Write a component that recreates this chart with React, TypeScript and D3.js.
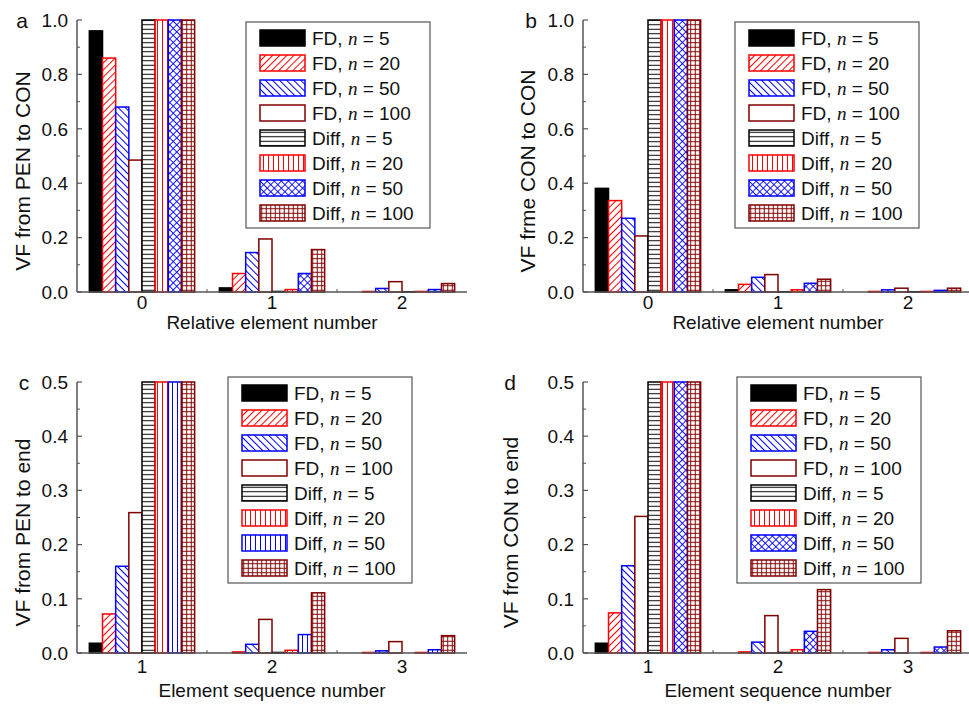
import React from 'react';
import * as d3 from 'd3';

// series order: FD n=5,20,50,100 then Diff n=5,20,50,100
const seriesMethod = ['FD', 'FD', 'FD', 'FD', 'Diff', 'Diff', 'Diff', 'Diff'];
const seriesN = [5, 20, 50, 100, 5, 20, 50, 100];

const catsAB = ['0', '1', '2'];
const catsCD = ['1', '2', '3'];

// one row per series, one column per category
const valuesA = [
  [0.96, 0.015, 0.0],
  [0.86, 0.068, 0.002],
  [0.68, 0.145, 0.013],
  [0.485, 0.195, 0.038],
  [1.0, 0.002, 0.001],
  [1.0, 0.009, 0.002],
  [1.0, 0.068, 0.009],
  [1.0, 0.156, 0.031],
];
const valuesB = [
  [0.381, 0.008, 0.0],
  [0.336, 0.028, 0.002],
  [0.271, 0.054, 0.008],
  [0.206, 0.064, 0.014],
  [1.0, 0.001, 0.001],
  [1.0, 0.008, 0.002],
  [1.0, 0.032, 0.006],
  [1.0, 0.047, 0.014],
];
const valuesC = [
  [0.018, 0.0, 0.0],
  [0.072, 0.002, 0.001],
  [0.16, 0.016, 0.004],
  [0.259, 0.062, 0.021],
  [0.5, 0.001, 0.0],
  [0.5, 0.005, 0.001],
  [0.5, 0.034, 0.006],
  [0.5, 0.111, 0.032],
];
const valuesD = [
  [0.018, 0.0, 0.0],
  [0.074, 0.002, 0.001],
  [0.161, 0.02, 0.006],
  [0.252, 0.069, 0.027],
  [0.5, 0.001, 0.0],
  [0.5, 0.006, 0.001],
  [0.5, 0.04, 0.011],
  [0.5, 0.117, 0.041],
];

const RED = '#ff0000';
const BLUE = '#0000ff';
const DARK = '#800000';
const SANS = '"Liberation Sans", Arial, sans-serif';
const SERIF = '"Liberation Serif", "Times New Roman", serif';

const strokes = ['#000', RED, BLUE, DARK, '#000', RED, BLUE, DARK];

function fillFor(i: number, diff50: string) {
  return [
    '#000',
    'url(#fd20)',
    'url(#fd50)',
    '#fff',
    'url(#diff5)',
    'url(#diff20)',
    diff50 === 'cross' ? 'url(#diff50x)' : 'url(#diff50v)',
    'url(#diff100)',
  ][i];
}

const panels = [
  {
    letter: 'a', cats: catsAB, values: valuesA, yMax: 1, major: 0.2,
    left: 77, right: 467, top: 20, bottom: 292,
    ylabel: 'VF from PEN to CON', xlabel: 'Relative element number',
    ylabelX: 22, letterX: 22, legendX: 246, legendY: 22, diff50: 'cross', tickGap: 17, xlabelGap: 37,
  },
  {
    letter: 'b', cats: catsAB, values: valuesB, yMax: 1, major: 0.2,
    left: 583, right: 973, top: 20, bottom: 292,
    ylabel: 'VF frme CON to CON', xlabel: 'Relative element number',
    ylabelX: 527, letterX: 531, legendX: 735, legendY: 22, diff50: 'cross', tickGap: 17, xlabelGap: 37,
  },
  {
    letter: 'c', cats: catsCD, values: valuesC, yMax: 0.5, major: 0.1,
    left: 77, right: 467, top: 382, bottom: 653,
    ylabel: 'VF from PEN to end', xlabel: 'Element sequence number',
    ylabelX: 22, letterX: 24, legendX: 228, legendY: 377, diff50: 'vert', tickGap: 20, xlabelGap: 44,
  },
  {
    letter: 'd', cats: catsCD, values: valuesD, yMax: 0.5, major: 0.1,
    left: 583, right: 973, top: 382, bottom: 653,
    ylabel: 'VF from CON to end', xlabel: 'Element sequence number',
    ylabelX: 510, letterX: 510, legendX: 737, legendY: 377, diff50: 'cross', tickGap: 20, xlabelGap: 44,
  },
];

const Patterns = () => (
  <defs>
    <pattern id="fd20" width={5} height={5} patternUnits="userSpaceOnUse" patternTransform="rotate(45)">
      <rect width={5} height={5} fill="#fff" />
      <line x1={2.5} y1={0} x2={2.5} y2={5} stroke={RED} strokeWidth={1} />
    </pattern>
    <pattern id="fd50" width={5} height={5} patternUnits="userSpaceOnUse" patternTransform="rotate(-45)">
      <rect width={5} height={5} fill="#fff" />
      <line x1={2.5} y1={0} x2={2.5} y2={5} stroke={BLUE} strokeWidth={1} />
    </pattern>
    <pattern id="diff5" width={5} height={4.5} patternUnits="userSpaceOnUse">
      <rect width={5} height={4.5} fill="#fff" />
      <line x1={0} y1={2.25} x2={5} y2={2.25} stroke="#000" strokeWidth={1} />
    </pattern>
    <pattern id="diff20" width={5} height={5} patternUnits="userSpaceOnUse">
      <rect width={5} height={5} fill="#fff" />
      <line x1={2.5} y1={0} x2={2.5} y2={5} stroke={RED} strokeWidth={1} />
    </pattern>
    <pattern id="diff50v" width={5} height={5} patternUnits="userSpaceOnUse">
      <rect width={5} height={5} fill="#fff" />
      <line x1={2.5} y1={0} x2={2.5} y2={5} stroke={BLUE} strokeWidth={1} />
    </pattern>
    <pattern id="diff50x" width={5} height={5} patternUnits="userSpaceOnUse" patternTransform="rotate(45)">
      <rect width={5} height={5} fill="#fff" />
      <line x1={2.5} y1={0} x2={2.5} y2={5} stroke={BLUE} strokeWidth={0.9} />
      <line x1={0} y1={2.5} x2={5} y2={2.5} stroke={BLUE} strokeWidth={0.9} />
    </pattern>
    <pattern id="diff100" width={4.5} height={4.5} patternUnits="userSpaceOnUse">
      <rect width={4.5} height={4.5} fill="#fff" />
      <line x1={2.25} y1={0} x2={2.25} y2={4.5} stroke={DARK} strokeWidth={1} />
      <line x1={0} y1={2.25} x2={4.5} y2={2.25} stroke={DARK} strokeWidth={1} />
    </pattern>
  </defs>
);

const Panel = ({ p }: { p: any }) => {
  const x0 = d3.scaleBand<string>().domain(p.cats).range([p.left, p.right]).paddingInner(0.19).paddingOuter(0.095);
  const x1 = d3.scaleBand<string>().domain(d3.range(8).map(String)).range([0, x0.bandwidth()]);
  const y = d3.scaleLinear().domain([0, p.yMax]).range([p.bottom, p.top]);
  const fmt = d3.format('.1f');
  const majors = d3.range(0, p.yMax + 1e-9, p.major);
  const minors = d3.range(p.major / 2, p.yMax, p.major);
  const step = x0.step();
  const xMinor = p.cats.slice(1).map((c: string) => (x0(c) as number) + x0.bandwidth() / 2 - step / 2);
  const axisColor = '#555';

  return (
    <g>
      {p.values.map((row: number[], i: number) =>
        row.map((v, j) => {
          const yy = y(Math.min(v, p.yMax));
          return (
            <rect
              key={`${i}-${j}`}
              x={(x0(p.cats[j]) as number) + (x1(String(i)) as number)}
              y={yy}
              width={x1.bandwidth()}
              height={p.bottom - yy}
              fill={fillFor(i, p.diff50)}
              stroke={strokes[i]}
              strokeWidth={1.5}
            />
          );
        })
      )}
      <line x1={p.left} y1={p.top} x2={p.left} y2={p.bottom} stroke={axisColor} strokeWidth={1.5} />
      <line x1={p.left} y1={p.bottom} x2={p.right} y2={p.bottom} stroke={axisColor} strokeWidth={1.5} />
      {majors.map((t: number) => (
        <g key={`M${t}`}>
          <line x1={p.left} x2={p.left + 5} y1={y(t)} y2={y(t)} stroke={axisColor} strokeWidth={1.2} />
          <text x={p.left - 9} y={y(t)} dy="0.36em" textAnchor="end" fontFamily={SANS} fontSize={19} fill="#111">
            {fmt(t)}
          </text>
        </g>
      ))}
      {minors.map((t: number) => (
        <line key={`m${t}`} x1={p.left} x2={p.left + 3} y1={y(t)} y2={y(t)} stroke={axisColor} strokeWidth={1} />
      ))}
      {xMinor.map((xx: number) => (
        <line key={`xm${xx}`} x1={xx} x2={xx} y1={p.bottom} y2={p.bottom - 3} stroke={axisColor} strokeWidth={1} />
      ))}
      {p.cats.map((c: string) => (
        <text key={c} x={(x0(c) as number) + x0.bandwidth() / 2} y={p.bottom + p.tickGap} textAnchor="middle" fontFamily={SANS} fontSize={19} fill="#111">
          {c}
        </text>
      ))}
      <text x={(p.left + p.right) / 2} y={p.bottom + p.xlabelGap} textAnchor="middle" fontFamily={SANS} fontSize={19} fill="#111">
        {p.xlabel}
      </text>
      <text
        transform={`translate(${p.ylabelX},${(p.top + p.bottom) / 2 + 15}) rotate(-90)`}
        dy="0.36em"
        textAnchor="middle"
        fontFamily={SANS}
        fontSize={21}
        fill="#111"
      >
        {p.ylabel}
      </text>
      <text x={p.letterX} y={p.top} dy="0.36em" textAnchor="middle" fontFamily={SANS} fontSize={21} fill="#111">
        {p.letter}
      </text>
      <g transform={`translate(${p.legendX},${p.legendY})`}>
        <rect x={0} y={0} width={184} height={206} fill="#fff" stroke="#555" strokeWidth={1.2} />
        {seriesMethod.map((m, i) => {
          const cy = 16 + i * 25;
          return (
            <g key={i}>
              <rect x={14} y={cy - 8} width={45} height={16} fill={fillFor(i, p.diff50)} stroke={strokes[i]} strokeWidth={1.5} />
              <text x={66} y={cy} dy="0.36em" fontFamily={SANS} fontSize={19} fill="#111">
                {m},{' '}
                <tspan fontFamily={SERIF} fontStyle="italic">n</tspan>
                {` = ${seriesN[i]}`}
              </text>
            </g>
          );
        })}
      </g>
    </g>
  );
};

export default function App() {
  return (
    <div style={{ position: 'absolute', left: 0, top: 0 }}>
      <svg width={969} height={706} style={{ display: 'block', background: '#fff' }}>
        <Patterns />
        {panels.map((p) => (
          <Panel key={p.letter} p={p} />
        ))}
      </svg>
    </div>
  );
}
